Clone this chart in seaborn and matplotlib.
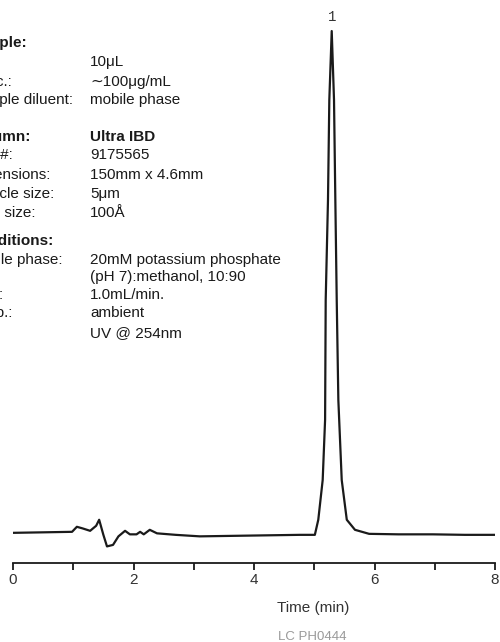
import matplotlib

matplotlib.use('Agg')

import matplotlib.pyplot as plt
import seaborn as sns
import numpy as np
import pandas as pd


# trace (time in min, signal in % of peak 1)
time_min = [
    0.00, 0.50, 0.98, 1.06, 1.15, 1.28, 1.38, 1.43, 1.50, 1.56,
    1.66, 1.75, 1.86, 1.94, 2.05, 2.11, 2.17, 2.27, 2.39, 2.70,
    3.10, 3.65, 4.20, 4.76, 5.01, 5.067, 5.14, 5.18, 5.19, 5.228,
    5.25, 5.29, 5.328, 5.35, 5.373, 5.40, 5.456, 5.54, 5.676, 5.91,
    6.40, 6.97, 7.50, 8.00,
]
signal = [
    0.4, 0.5, 0.6, 1.6, 1.3, 0.8, 1.8, 3.0, 0.0, -2.3,
    -2.0, -0.3, 0.8, 0.1, 0.1, 0.6, 0.1, 1.0, 0.3, 0.0,
    -0.3, -0.2, -0.1, 0.0, 0.0, 3.0, 10.9, 22.9, 46.7, 66.6,
    86.5, 100.2, 86.5, 66.6, 46.7, 26.8, 10.9, 3.0, 1.0, 0.2,
    0.1, 0.1, 0.0, 0.0,
]

peak_names = ['1']
peak_times = [5.29]
peak_heights = [100.2]

major_ticks = [0, 2, 4, 6, 8]
minor_ticks = [1, 3, 5, 7]

# method block: (label, value, bold)
info_rows = [
    ('Sample:', '', True),
    ('Inj.:', '10μL', False),
    ('Conc.:', '∼100μg/mL', False),
    ('Sample diluent:', 'mobile phase', False),
    ('Column:', 'Ultra IBD', True),
    ('Cat. #:', '9175565', False),
    ('Dimensions:', '150mm x 4.6mm', False),
    ('Particle size:', '5μm', False),
    ('Pore size:', '100Å', False),
    ('Conditions:', '', True),
    ('Mobile phase:', '20mM potassium phosphate', False),
    ('', '(pH 7):methanol, 10:90', False),
    ('Flow:', '1.0mL/min.', False),
    ('Temp.:', 'ambient', False),
    ('Det.:', 'UV @ 254nm', False),
]
info_y_px = [43, 62, 82, 100, 137, 155, 175, 194, 213,
             241, 260, 277, 295, 313, 333]

sns.set_style('white')

text_font = ['Liberation Sans', 'DejaVu Sans']
plt.rcParams['font.family'] = text_font

W, H = 500, 642

fig = plt.figure(
    figsize=(W / 100, H / 100),
    dpi=100,
)

ax = fig.add_axes([13 / W, (H - 563) / H, 482 / W, 541 / H])

df = pd.DataFrame({'time': time_min, 'signal': signal})

sns.lineplot(
    data=df,
    x='time',
    y='signal',
    color='#1a1a1a',
    linewidth=1.6,
    ax=ax,
    sort=False,
)

for name, t, h in zip(peak_names, peak_times, peak_heights):

    ax.annotate(
        name,
        xy=(t, h),
        xytext=(0, 5),
        textcoords='offset points',
        ha='center',
        va='bottom',
        fontsize=10,
        family=['Liberation Mono', 'DejaVu Sans Mono'],
        color='#333333',
    )

ax.set_xlim(0, 8)
ax.set_ylim(-5.6, 102)

ax.set_xticks(major_ticks)
ax.set_xticks(minor_ticks, minor=True)
ax.set_xticklabels([str(t) for t in major_ticks])
ax.set_yticks([])

for side in ['left', 'top', 'right']:
    ax.spines[side].set_visible(False)

ax.spines['bottom'].set_linewidth(1.3)
ax.spines['bottom'].set_color('#1a1a1a')

ax.tick_params(
    axis='x',
    which='both',
    direction='out',
    length=5,
    width=1.3,
    color='#1a1a1a',
    labelsize=11,
    labelcolor='#333333',
    pad=2,
    bottom=True,
)

ax.set_xlabel('')
ax.set_ylabel('')

fig.text(
    313 / W, 1 - 608 / H,
    'Time (min)',
    ha='center',
    va='center',
    fontsize=11,
    color='#333333',
)

fig.text(
    312 / W, 1 - 637 / H,
    'LC PH0444',
    ha='center',
    va='center',
    fontsize=9.5,
    color='#9a9a9a',
)

# the method block is cropped on the left in the source, labels run off the edge
for (label, value, bold), y in zip(info_rows, info_y_px):

    weight = 'bold' if bold else 'normal'

    fig.text(
        -32 / W, 1 - y / H,
        label,
        ha='left',
        va='center',
        fontsize=11,
        fontweight=weight,
        color='#1a1a1a',
    )

    fig.text(
        90 / W, 1 - y / H,
        value,
        ha='left',
        va='center',
        fontsize=11,
        fontweight=weight,
        color='#1a1a1a',
    )

plt.savefig('out.png', dpi=100)

plt.close()
